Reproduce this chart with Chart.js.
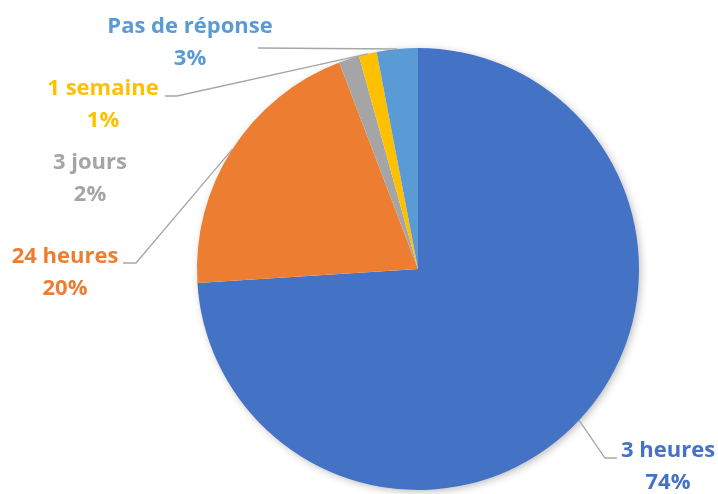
<!DOCTYPE html>
<html>
<head>
<meta charset="utf-8">
<script src="https://cdn.jsdelivr.net/npm/chart.js@4.4.0/dist/chart.umd.min.js"></script>
<style>
html,body{margin:0;padding:0;background:#fff;}
#wrap{width:718px;height:494px;position:relative;}
</style>
</head>
<body>
<div id="wrap"><canvas id="c"></canvas></div>
<script>
const categories = ["3 heures", "24 heures", "3 jours", "1 semaine", "Pas de réponse"];
const values = [74.0, 20.2, 1.5, 1.3, 3.0];
const colors = ["#4472C4", "#ED7D31", "#A5A5A5", "#FFC000", "#5B9BD5"];

// label layout: text centre x, first-line baseline y, optional leader elbow/end
const labelLayout = [
  {x: 668, y: 457, elbow: [605, 458], end: [617, 458]},
  {x: 65,  y: 263, elbow: [136, 263], end: [123, 263]},
  {x: 90,  y: 169, elbow: null},
  {x: 103, y: 95,  elbow: [177, 96], end: [165, 96]},
  {x: 190, y: 33,  elbow: null, end: [258, 48]}
];

const FONT = 'bold 22px "Open Sans", Lato, sans-serif';

const shadowPlugin = {
  id: 'shadow',
  beforeDatasetsDraw(chart) {
    const arc = chart.getDatasetMeta(0).data[0];
    if (!arc) return;
    const ctx = chart.ctx;
    ctx.save();
    ctx.shadowColor = 'rgba(0,0,0,0.30)';
    ctx.shadowBlur = 9;
    ctx.shadowOffsetX = 2;
    ctx.shadowOffsetY = 2;
    ctx.fillStyle = '#ffffff';
    ctx.beginPath();
    ctx.arc(arc.x, arc.y, arc.outerRadius - 1, 0, Math.PI * 2);
    ctx.fill();
    ctx.restore();
  }
};

const labelPlugin = {
  id: 'pieLabels',
  afterDatasetsDraw(chart) {
    const ctx = chart.ctx;
    const meta = chart.getDatasetMeta(0);
    const data = chart.data.datasets[0].data;
    const total = data.reduce((a, b) => a + b, 0);
    ctx.save();
    meta.data.forEach((arc, i) => {
      const L = labelLayout[i];
      const mid = (arc.startAngle + arc.endAngle) / 2;
      const ax = arc.x + Math.cos(mid) * arc.outerRadius;
      const ay = arc.y + Math.sin(mid) * arc.outerRadius;
      if (L.end) {
        ctx.strokeStyle = '#A6A6A6';
        ctx.lineWidth = 1.3;
        ctx.beginPath();
        ctx.moveTo(ax, ay);
        if (L.elbow) ctx.lineTo(L.elbow[0], L.elbow[1]);
        ctx.lineTo(L.end[0], L.end[1]);
        ctx.stroke();
      }
      ctx.fillStyle = colors[i];
      ctx.font = FONT;
      ctx.textAlign = 'center';
      ctx.textBaseline = 'alphabetic';
      ctx.fillText(chart.data.labels[i], L.x, L.y);
      ctx.fillText(Math.round(data[i] / total * 100) + '%', L.x, L.y + 32);
    });
    ctx.restore();
  }
};

new Chart(document.getElementById('c'), {
  type: 'pie',
  data: {
    labels: categories,
    datasets: [{
      data: values,
      backgroundColor: colors,
      borderWidth: 0
    }]
  },
  options: {
    responsive: true,
    maintainAspectRatio: false,
    animation: false,
    layout: {padding: {left: 197, right: 79, top: 48, bottom: 4}},
    plugins: {legend: {display: false}, tooltip: {enabled: false}}
  },
  plugins: [shadowPlugin, labelPlugin]
});
</script>
</body>
</html>
